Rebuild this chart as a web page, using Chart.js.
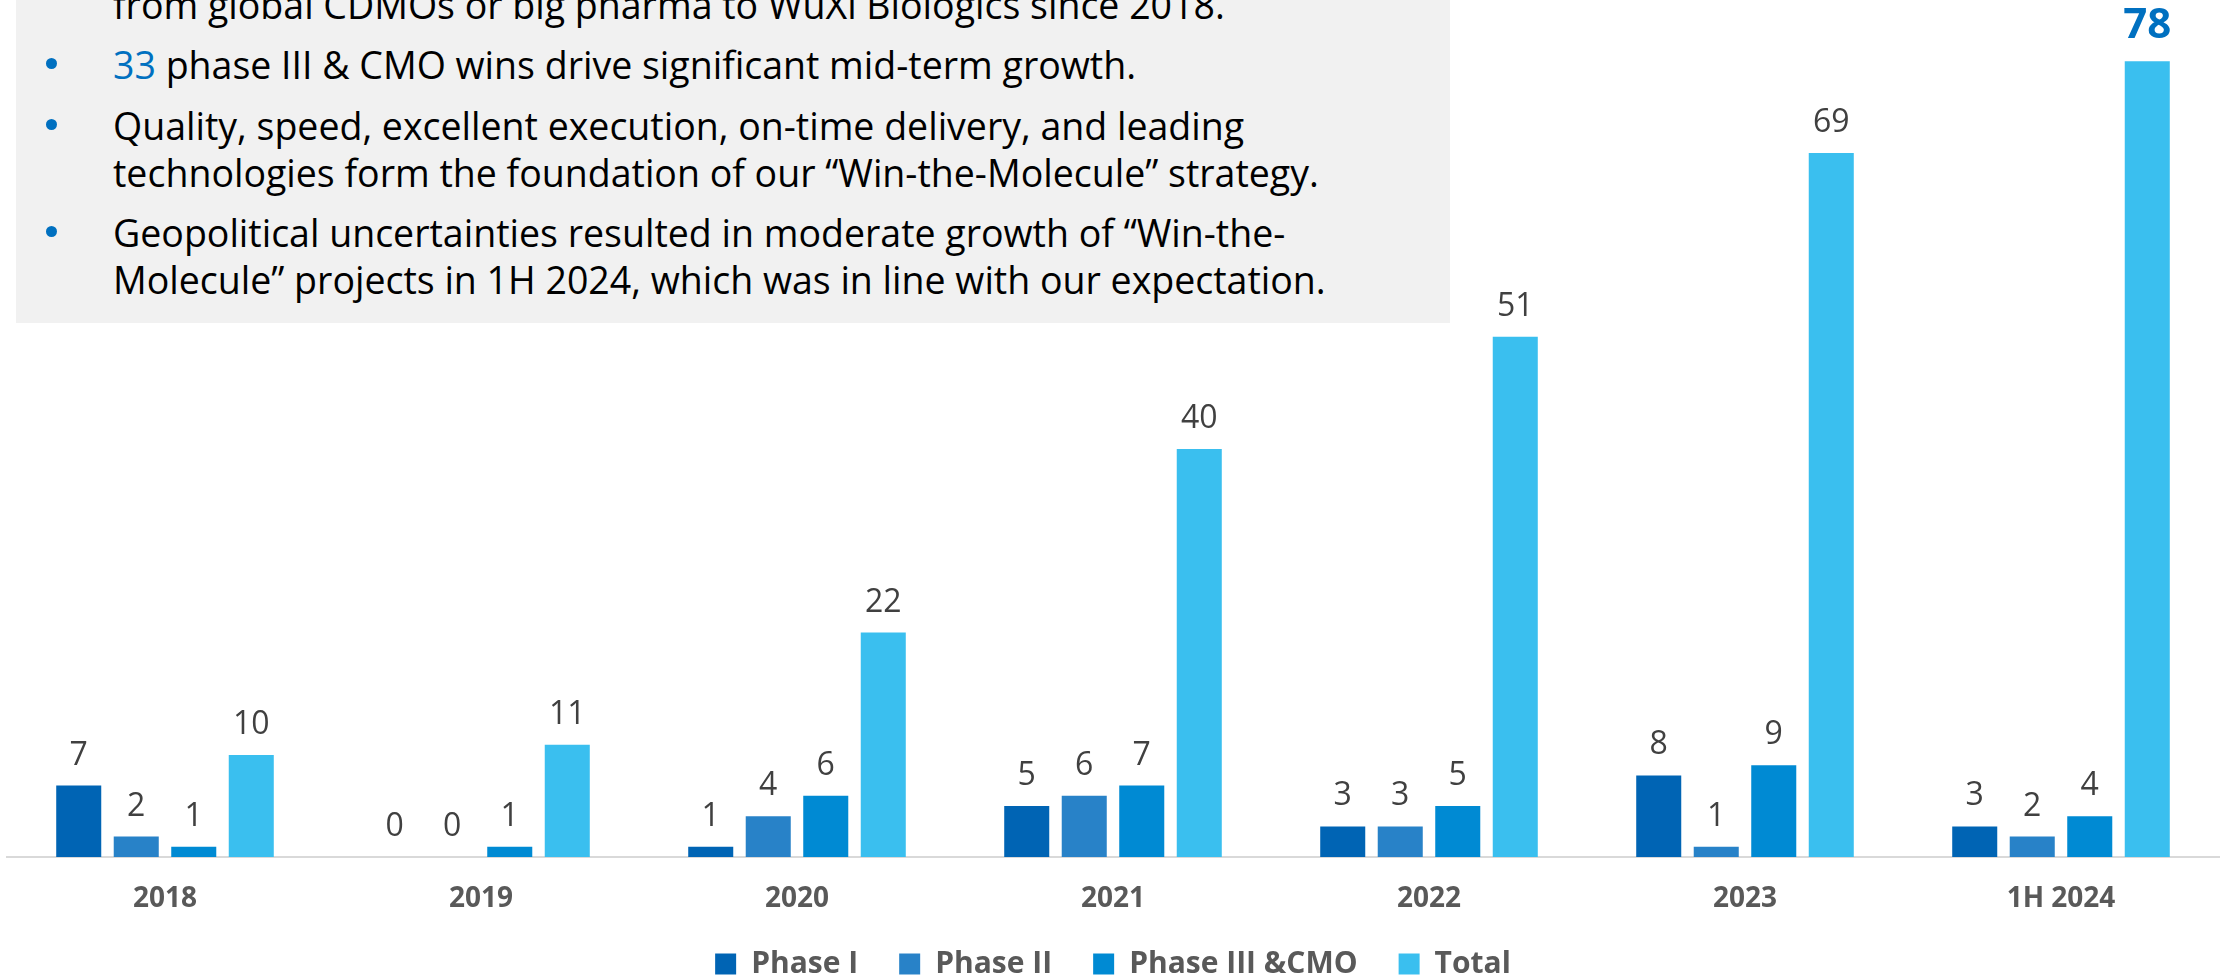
<!DOCTYPE html>
<html>
<head>
<meta charset="utf-8">
<script src="https://cdn.jsdelivr.net/npm/chart.js@4.4.1/dist/chart.umd.min.js"></script>
<style>
  body { margin: 0; background: #fff; }
  #wrap { position: relative; width: 2226px; height: 977px; overflow: hidden; }
  #chart { position: absolute; left: 0; top: 0; }
  #note {
    position: absolute; left: 16px; top: 0; width: 1434px; height: 323px;
    background: #F1F1F1; z-index: 2; overflow: hidden;
    font-family: "Open Sans", sans-serif; font-size: 37.5px; color: #000;
  }
  .p { position: absolute; left: 97px; line-height: 47px; white-space: nowrap; }
  .dot { position: absolute; left: 30px; width: 11px; height: 11px; border-radius: 50%; background: #0070C0; }
  .blue { color: #0070C0; }
</style>
</head>
<body>
<div id="wrap">
  <canvas id="chart" width="2226" height="977"></canvas>
  <div id="note">
    <div class="p" style="top:-19px">from global CDMOs or big pharma to WuXi Biologics since 2018.</div>
    <span class="dot" style="top:58px"></span>
    <div class="p" style="top:41px"><span class="blue">33</span> phase III &amp; CMO wins drive significant mid-term growth.</div>
    <span class="dot" style="top:119px"></span>
    <div class="p" style="top:102px">Quality, speed, excellent execution, on-time delivery, and leading<br>technologies form the foundation of our “Win-the-Molecule” strategy.</div>
    <span class="dot" style="top:226px"></span>
    <div class="p" style="top:209px">Geopolitical uncertainties resulted in moderate growth of “Win-the-<br>Molecule” projects in 1H 2024, which was in line with our expectation.</div>
  </div>
</div>
<script>
var years = ['2018', '2019', '2020', '2021', '2022', '2023', '1H 2024'];
var phaseI = [7, 0, 1, 5, 3, 8, 3];
var phaseII = [2, 0, 4, 6, 3, 1, 2];
var phaseIII = [1, 1, 6, 7, 5, 9, 4];
var total = [10, 11, 22, 40, 51, 69, 78];

// value labels above each bar, the last total is highlighted
var barLabels = {
    id: 'barLabels',
    afterDatasetsDraw: function(chart) {
        var ctx = chart.ctx;
        ctx.save();
        ctx.textAlign = 'center';
        ctx.textBaseline = 'alphabetic';
        chart.data.datasets.forEach(function(ds, i) {
            var meta = chart.getDatasetMeta(i);
            meta.data.forEach(function(bar, j) {
                var hl = (i === 3 && j === ds.data.length - 1);
                ctx.font = hl ? 'bold 42px "Open Sans"' : '32px "Open Sans"';
                ctx.fillStyle = hl ? '#0070C0' : '#404040';
                ctx.fillText(String(ds.data[j]), bar.x, bar.y - (hl ? 23 : 21));
            });
        });
        ctx.restore();
    }
};

function renderGraph() {
    var ctx = document.getElementById('chart').getContext('2d');

    var barData = {
        labels: years,
        datasets: [
            { label: 'Phase I', data: phaseI, backgroundColor: '#0064B4' },
            { label: 'Phase II', data: phaseII, backgroundColor: '#2882C8' },
            { label: 'Phase III &CMO', data: phaseIII, backgroundColor: '#008AD3' },
            { label: 'Total', data: total, backgroundColor: '#3ABFEF' }
        ]
    };
    barData.datasets.forEach(function(ds) {
        ds.borderWidth = 0;
        ds.categoryPercentage = 0.728;
        ds.barPercentage = 0.783;
    });

    new Chart(ctx, {
        type: 'bar',
        data: barData,
        plugins: [barLabels],
        options: {
            responsive: false,
            animation: false,
            layout: { padding: { left: 7, right: 7, top: 0, bottom: -12 } },
            plugins: {
                tooltip: { enabled: false },
                legend: {
                    position: 'bottom',
                    labels: {
                        color: '#595959',
                        font: { family: 'Open Sans', weight: 'bold', size: 30 },
                        boxWidth: 21,
                        boxHeight: 21,
                        padding: 41
                    }
                }
            },
            scales: {
                x: {
                    grid: { display: false, drawTicks: false },
                    border: { display: true, color: '#D9D9D9', width: 2 },
                    ticks: {
                        color: '#595959',
                        font: { family: 'Open Sans', weight: 'bold', size: 28 },
                        padding: 25
                    },
                    afterFit: function(scale) { scale.height = 51; }
                },
                y: {
                    display: false,
                    min: 0,
                    max: 84
                }
            }
        }
    });
}

renderGraph();
</script>
</body>
</html>
